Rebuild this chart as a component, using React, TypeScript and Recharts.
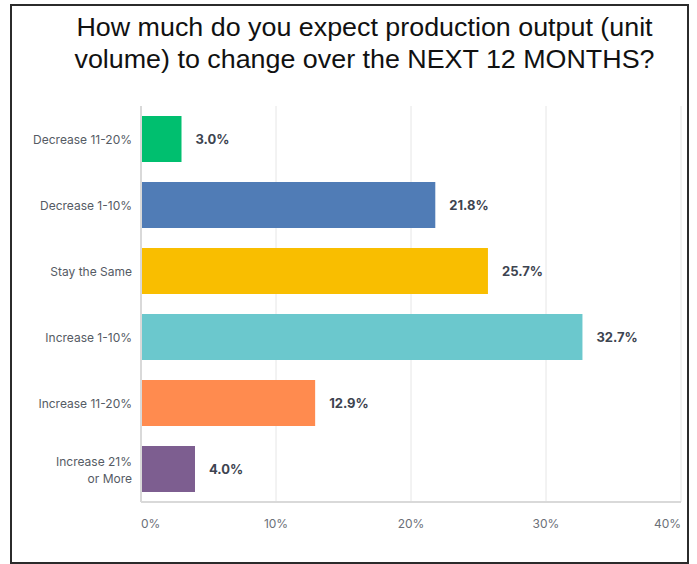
import React from "react";
import { BarChart, Bar, XAxis, YAxis, CartesianGrid, LabelList, Cell } from "recharts";

const categories = [
  "Decrease 11-20%",
  "Decrease 1-10%",
  "Stay the Same",
  "Increase 1-10%",
  "Increase 11-20%",
  "Increase 21%\nor More",
];
const values = [3.0, 21.8, 25.7, 32.7, 12.9, 4.0];
const barColors = ["#00BF6F", "#507CB6", "#F9BE00", "#6BC8CD", "#FF8B4F", "#7D5E90"];
const xTicks = [0, 10, 20, 30, 40];
const titleLines = [
  "How much do you expect production output (unit",
  "volume) to change over the NEXT 12 MONTHS?",
];

const data = categories.map((c, i) => ({ name: c, value: values[i] }));

const FONT = "Inter, 'Noto Sans', sans-serif";

const YTick = (props: any) => {
  const { x, y, payload } = props;
  const lines = String(payload.value).split("\n");
  const lh = 17;
  const start = y - ((lines.length - 1) * lh) / 2;
  return (
    <text x={x} y={start} textAnchor="end" fill="#555B64" fontSize={12} fontFamily={FONT} dominantBaseline="central">
      {lines.map((l, i) => (
        <tspan key={i} x={x} y={start + i * lh} dominantBaseline="central">
          {l}
        </tspan>
      ))}
    </text>
  );
};

const XTick = (props: any) => {
  const { x, y, payload, index } = props;
  const anchor = index === 0 ? "start" : index === xTicks.length - 1 ? "end" : "middle";
  return (
    <text x={x} y={y + 13} textAnchor={anchor} fill="#6B7078" fontSize={12} fontFamily={FONT} dominantBaseline="central">
      {payload.value}%
    </text>
  );
};

export default function App() {
  return (
    <div style={{ position: "absolute", left: 0, top: 0, width: 697, height: 564, background: "#fff" }}>
      <div
        style={{
          position: "absolute",
          left: 10,
          top: 4,
          width: 675,
          height: 556,
          border: "2.5px solid #2b2b2b",
        }}
      />
      <div
        style={{
          position: "absolute",
          left: 0,
          width: 729,
          top: 11,
          textAlign: "center",
          fontFamily: "'Liberation Sans', Arial, sans-serif",
          fontSize: 25,
          lineHeight: "32px",
          color: "#111",
          transform: "scaleX(1.074)",
          transformOrigin: "364.5px 0",
          whiteSpace: "nowrap",
        }}
      >
        {titleLines.map((t, i) => (
          <div key={i}>{t}</div>
        ))}
      </div>
      <div style={{ position: "absolute", left: 0, top: 0 }}>
        <BarChart
          width={697}
          height={564}
          layout="vertical"
          data={data}
          margin={{ top: 106, right: 16, bottom: 32, left: 0 }}
        >
          <CartesianGrid horizontal={false} stroke="#E6E6E6" />
          <XAxis
            type="number"
            domain={[0, 40]}
            ticks={xTicks}
            tick={<XTick />}
            tickLine={false}
            axisLine={{ stroke: "#D9D9D9", strokeWidth: 2 }}
            height={30}
            interval={0}
          />
          <YAxis
            type="category"
            dataKey="name"
            width={141}
            tick={<YTick />}
            tickLine={false}
            tickMargin={3}
            axisLine={{ stroke: "#D9D9D9", strokeWidth: 2 }}
            interval={0}
          />
          <Bar dataKey="value" barSize={46} isAnimationActive={false}>
            {data.map((d, i) => (
              <Cell key={i} fill={barColors[i]} />
            ))}
            <LabelList
              dataKey="value"
              position="right"
              offset={14}
              formatter={(v: any) => `${Number(v).toFixed(1)}%`}
              style={{ fill: "#3D4450", fontSize: 13, fontWeight: 700, fontFamily: FONT }}
            />
          </Bar>
        </BarChart>
      </div>
    </div>
  );
}
